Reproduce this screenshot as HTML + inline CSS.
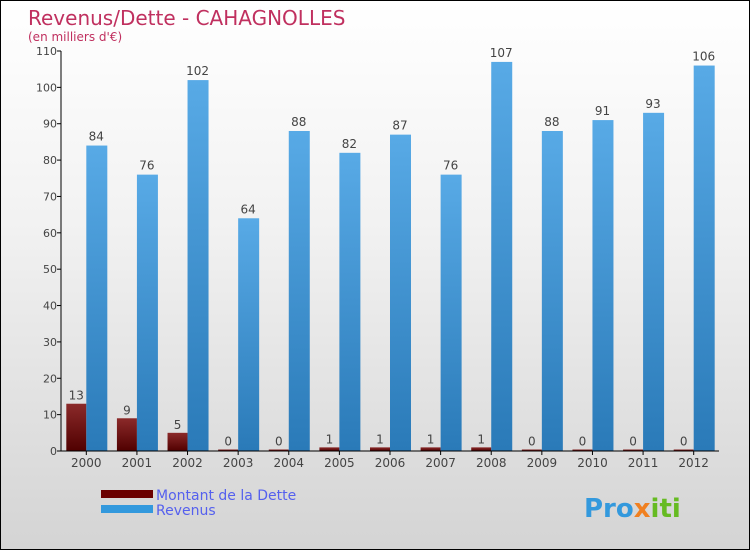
<!DOCTYPE html>
<html><head><meta charset="utf-8"><style>
body{margin:0}
#c{width:750px;height:550px;position:relative;background:linear-gradient(#ffffff,#f2f2f2 40%,#d4d4d4);font-family:"DejaVu Sans","Liberation Sans",sans-serif;box-sizing:border-box;border:1px solid #000;overflow:hidden}
</style></head><body>
<div id="c">
<svg id="s" width="750" height="550">
<defs>
<linearGradient id="gd" x1="0" y1="0" x2="0" y2="1"><stop offset="0" stop-color="#8b2a2a"/><stop offset="1" stop-color="#500000"/></linearGradient>
<linearGradient id="gr" x1="0" y1="0" x2="0" y2="1"><stop offset="0" stop-color="#58aae6"/><stop offset="1" stop-color="#2a7ab8"/></linearGradient>
</defs>
<text x="27" y="24" font-size="20" fill="#c0305f">Revenus/Dette - CAHAGNOLLES</text>
<text x="27" y="40" font-size="12" fill="#c0305f">(en milliers d'€)</text>
<g id="g"></g>
<rect x="100" y="489" width="52" height="8" fill="#6b0000"/>
<text x="155" y="499" font-size="14" fill="#5560ee">Montant de la Dette</text>
<rect x="100" y="504" width="52" height="8" fill="#3399dd"/>
<text x="155" y="514" font-size="14" fill="#5560ee">Revenus</text>
<text x="583" y="516" font-size="26" font-weight="bold" fill="#3399dd">Pro<tspan fill="#f08020">x</tspan><tspan fill="#66bb22">iti</tspan></text>
</svg>
</div>
<script>
const years=["2000","2001","2002","2003","2004","2005","2006","2007","2008","2009","2010","2011","2012"];
const dette=[13,9,5,0,0,1,1,1,1,0,0,0,0];
const revenus=[84,76,102,64,88,82,87,76,107,88,91,93,106];
const yTicks=[0,10,20,30,40,50,60,70,80,90,100,110];
const NS="http://www.w3.org/2000/svg";
const g=document.getElementById('g');
const x0=60,x1=718,yb=450,yt=50,ymax=110;
const step=(x1-x0)/years.length;
const y=v=>yb-(v/ymax)*(yb-yt);
function mk(t,a){const e=document.createElementNS(NS,t);for(const k in a)e.setAttribute(k,a[k]);g.appendChild(e);return e;}
yTicks.forEach(v=>{
 const l=mk('line',{x1:x0-4,x2:x0,y1:y(v),y2:y(v),stroke:'#000'});
 
 
 const t=mk('text',{x:x0-4,y:y(v)+4,'font-size':11,'text-anchor':'end',fill:'#444'});
 t.textContent=v;
 
 
});
years.forEach((yr,i)=>{
 const c=x0+step*(i+0.5);
 const hd=Math.max(y(0)-y(dette[i]),1.5);
 const b1=mk('rect',{x:c-20,y:yb-hd,width:20,height:hd,fill:'url(#gd)'});
 
 
 const b2=mk('rect',{x:c,y:y(revenus[i]),width:21,height:yb-y(revenus[i]),fill:'url(#gr)'});
 
 
 const t1=mk('text',{x:c-10,y:yb-hd-4,'font-size':12,'text-anchor':'middle',fill:'#444'});
 t1.textContent=dette[i];
 
 
 const t2=mk('text',{x:c+10,y:y(revenus[i])-5,'font-size':12,'text-anchor':'middle',fill:'#444'});
 t2.textContent=revenus[i];
 
 
 const tk=mk('line',{x1:c,x2:c,y1:yb,y2:yb+4,stroke:'#000'});
 
 
 const xl=mk('text',{x:c,y:yb+16,'font-size':12,'text-anchor':'middle',fill:'#444'});
 xl.textContent=yr;
 
 
});
const ya=mk('line',{x1:x0,x2:x0,y1:yt,y2:yb,stroke:'#000'});


const xa=mk('line',{x1:x0,x2:x1,y1:yb,y2:yb,stroke:'#000'});


</script>
</body></html>
